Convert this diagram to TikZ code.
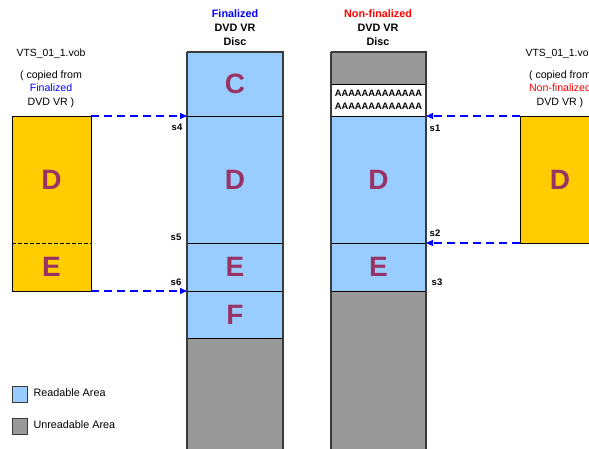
\documentclass[tikz,border=0pt]{standalone}
\usepackage{fontspec}
\setmainfont{Liberation Sans}
\usetikzlibrary{arrows.meta}
\definecolor{readable}{HTML}{99CCFF}
\definecolor{unreadable}{HTML}{999999}
\definecolor{vobfill}{HTML}{FFCC00}
\definecolor{letter}{HTML}{993366}
\definecolor{edge}{HTML}{3A3A3A}
\tikzset{
  seg/.style={draw=black, line width=0.9pt, inner sep=0pt, outer sep=0pt, anchor=north west,
              font=\fontsize{28}{28}\selectfont\bfseries, text=letter},
  rd/.style={seg, fill=readable},
  ur/.style={seg, fill=unreadable},
  vob/.style={fill=vobfill, inner sep=0pt, outer sep=0pt, anchor=north west,
              font=\fontsize{28}{28}\selectfont\bfseries, text=letter},
  link/.style={draw=blue, line width=1.1pt, dash pattern=on 8pt off 5pt,
               -{Triangle[length=7pt,width=6pt]}},
  sectorlabel/.style={font=\fontsize{9.5}{10}\selectfont\bfseries},
  title/.style={font=\fontsize{10.8}{14}\selectfont\bfseries, align=center, anchor=north},
  note/.style={font=\fontsize{10.6}{13.5}\selectfont, align=center, anchor=north},
  legtext/.style={font=\fontsize{10.8}{11}\selectfont, anchor=west},
  legbox/.style={draw=edge, line width=0.9pt, minimum width=15pt, minimum height=16pt,
                 inner sep=0pt, anchor=north west}
}
\begin{document}
\begin{tikzpicture}[x=1pt, y=-1pt]
\useasboundingbox (0,0) rectangle (589,449);
\clip (0,0) rectangle (589,449);

% finalized disc
\node[rd, minimum width=96pt, minimum height=64pt]  (fC) at (187,52)  {C};
\node[rd, minimum width=96pt, minimum height=127pt] (fD) at (187,116) {D};
\node[rd, minimum width=96pt, minimum height=48pt]  (fE) at (187,243) {E};
\node[rd, minimum width=96pt, minimum height=47pt]  (fF) at (187,291) {F};
\node[ur, minimum width=96pt, minimum height=130pt] (fG) at (187,338) {};
\draw[edge, line width=1.4pt] (fC.north west) -- (fG.south west)
  (fC.north west) -- (fC.north east) -- (fG.south east);

% non-finalized disc
\node[ur, minimum width=95pt, minimum height=32pt]  (nG1) at (331,52)  {};
\node[seg, fill=white, minimum width=95pt, minimum height=32pt,
      font=\fontsize{9.3}{13}\selectfont\bfseries, text=black, align=center] (nA) at (331,84)
      {AAAAAAAAAAAAA\\AAAAAAAAAAAAA};
\node[rd, minimum width=95pt, minimum height=127pt] (nD) at (331,116) {D};
\node[rd, minimum width=95pt, minimum height=48pt]  (nE) at (331,243) {E};
\node[ur, minimum width=95pt, minimum height=170pt] (nG2) at (331,291) {};
\draw[edge, line width=1.4pt] (nG1.north west) -- (nG2.south west)
  (nG1.north west) -- (nG1.north east) -- (nG2.south east);

% titles
\node[title] (tf) at (235,6) {\textcolor{blue}{Finalized}\\DVD VR\\Disc};
\node[title] (tn) at (378,6) {\textcolor{red}{Non-finalized}\\DVD VR\\Disc};

% copied vob files
\node[vob, minimum width=79pt, minimum height=127pt] (lD) at (12,116) {D};
\node[vob, minimum width=79pt, minimum height=48pt]  (lE) at (12,243) {E};
\draw[black, line width=0.9pt] (lD.north west) rectangle (lE.south east);
\draw[black, line width=0.8pt, dash pattern=on 4pt off 2pt] (lD.south west) -- (lD.south east);
\node[vob, draw=black, line width=0.9pt, minimum width=90pt, minimum height=127pt] (rD) at (520,116) {\hspace*{-10pt}D};

\node[note, font=\fontsize{10.4}{10}\selectfont] (lname) at (51,45) {VTS\_01\_1.vob};
\node[note] (lsrc) at (51,67) {( copied from\\\textcolor{blue}{Finalized}\\DVD VR )};
\node[note, font=\fontsize{10.4}{10}\selectfont] (rname) at (560,45) {VTS\_01\_1.vob};
\node[note] (rsrc) at (560,67) {( copied from\\\textcolor{red}{Non-finalized}\\DVD VR )};

% sector links
\draw[link] (lD.north east) -- (fD.north west);
\draw[link] (lE.south east) -- (fF.north west);
\draw[link] (rD.north west) -- (nD.north east);
\draw[link] (rD.south west) -- (nE.north east);

% sector labels
\node[sectorlabel] (s4) at (177,127) {s4};
\node[sectorlabel] (s5) at (176,237) {s5};
\node[sectorlabel] (s6) at (176,282) {s6};
\node[sectorlabel] (s1) at (435,128) {s1};
\node[sectorlabel] (s2) at (435,233) {s2};
\node[sectorlabel] (s3) at (437,282) {s3};

% legend
\node[legbox, fill=readable] (kr) at (12,386) {};
\node[legtext] (krt) at (30,393) {Readable Area};
\node[legbox, fill=unreadable] (ku) at (12,418) {};
\node[legtext] (kut) at (30,425) {Unreadable Area};
\end{tikzpicture}
\end{document}
